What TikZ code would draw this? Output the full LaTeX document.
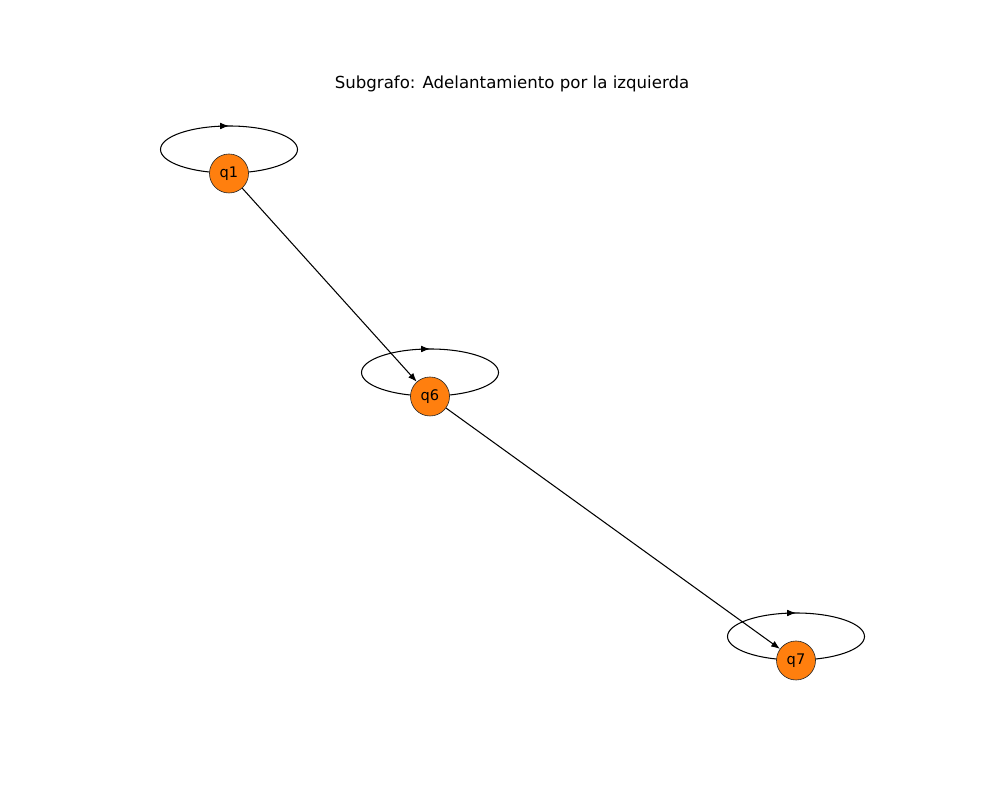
\documentclass[tikz,border=0pt]{standalone}
\usepackage{fontspec}
\setmainfont{DejaVu Sans}
\usetikzlibrary{positioning,arrows.meta,decorations.markings,backgrounds}
\definecolor{qorange}{HTML}{FF7F0E}

\begin{document}
\begin{tikzpicture}[
		state/.style={circle,draw=black!85,line width=0.35pt,fill=qorange,
		minimum size=0.78cm,inner sep=0pt,font=\fontsize{8.3}{10}\selectfont},
		trans/.style={-{Latex[length=5pt,width=3.8pt]},line width=0.6pt},
		selfloop/.style={line width=0.6pt,postaction={decorate},
		decoration={markings,mark=at position 0.25 with
		{\arrowreversed{Latex[length=5pt,width=3.8pt]}}}}
		]
		\useasboundingbox (0,0) rectangle (20,16);
		
		\node[font=\fontsize{9.45}{11}\selectfont](title) at (10.24,14.33){Subgrafo: Adelantamiento por la izquierda};
		
		\node[state](q1) at (4.58,12.53){q1};
		\node[state, on grid, below right = 4.46cm and 4.02cm of q1](q6){q6};
		\node[state, on grid, below right = 5.28cm and 7.32cm of q6](q7){q7};
		
		% self loops behind the states
		\begin{scope}[on background layer]
		\draw[selfloop] ([yshift=0.48cm]q1.center) ellipse [x radius=1.37cm, y radius=0.47cm];
		\draw[selfloop] ([yshift=0.48cm]q6.center) ellipse [x radius=1.37cm, y radius=0.47cm];
		\draw[selfloop] ([yshift=0.48cm]q7.center) ellipse [x radius=1.37cm, y radius=0.47cm];
		\end{scope}
		
		\draw[trans] (q1) -- (q6);
		\draw[trans] (q6) -- (q7);
	\end{tikzpicture}
\end{document}
